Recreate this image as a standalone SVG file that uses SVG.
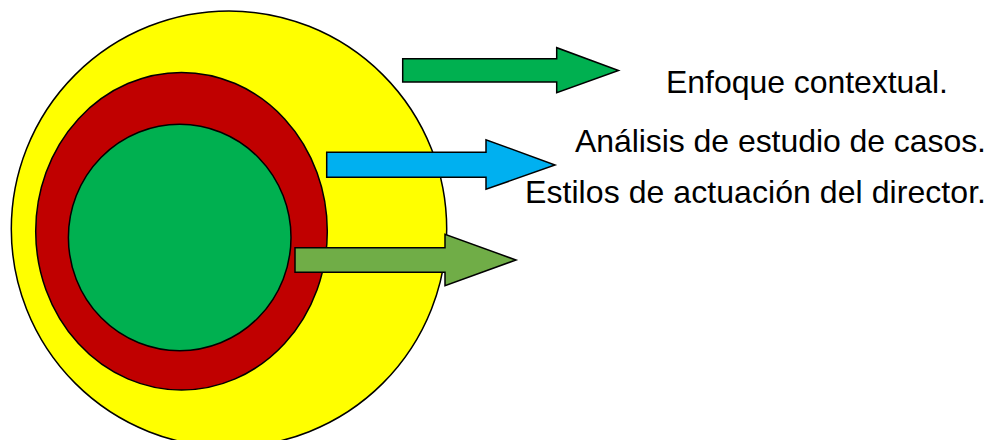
<svg xmlns="http://www.w3.org/2000/svg" width="994" height="440" viewBox="0 0 994 440">
<style>
.ring{stroke:#000;stroke-width:1.5}
.arrow{stroke:#000;stroke-width:1.5;stroke-linejoin:miter}
.lbl{font-family:"Liberation Sans",Arial,sans-serif;font-size:32px;fill:#000}
</style>
<rect width="994" height="440" fill="#fff"/>
<g id="yellow-circle"><ellipse class="ring" cx="229" cy="229" rx="217.7" ry="218" fill="#FFFF00"/></g>
<g id="red-circle"><ellipse class="ring" cx="181.5" cy="231.2" rx="145.8" ry="158.8" fill="#C00000"/></g>
<g id="green-circle"><ellipse class="ring" cx="179.7" cy="237.5" rx="111.3" ry="113.2" fill="#00B050"/></g>
<g id="connectors">
<polygon class="arrow" fill="#00B050" points="402.7,58.7 556.7,58.7 556.7,47.7 618.5,70.5 556.7,92.7 556.7,82 402.7,82"/>
<polygon class="arrow" fill="#00B0F0" points="326.7,152.3 486,152.3 486,139.7 555,165 486,189.3 486,177.3 326.7,177.3"/>
<polygon class="arrow" fill="#70AD47" points="295,247.7 445,247.7 445,234.3 516,260 445,285.7 445,272.3 295,272.3"/>
</g>
<g id="label-1"><text class="lbl" x="666" y="92.7" textLength="282">Enfoque contextual.</text></g>
<g id="label-2"><text class="lbl" x="575" y="151.7" textLength="411">Análisis de estudio de casos.</text></g>
<g id="label-3"><text class="lbl" x="525" y="202.7" textLength="461">Estilos de actuación del director.</text></g>
</svg>
